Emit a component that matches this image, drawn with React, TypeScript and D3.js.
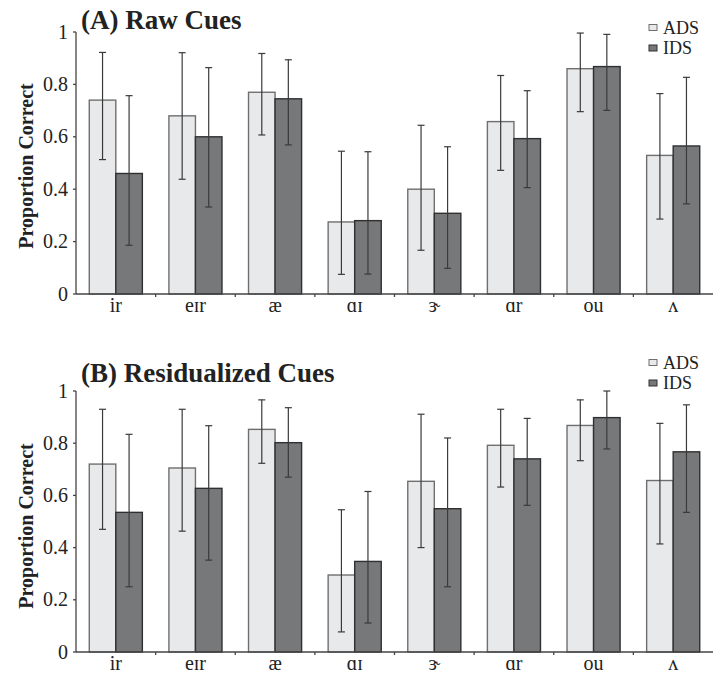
import React from 'react';
import * as d3 from 'd3';

const vowels = ['ir', 'eɪr', 'æ', 'ɑɪ', 'ɝ', 'ɑr', 'ou', 'ʌ'];
const groups = ['ADS', 'IDS'];

// panel A: raw cues
const rawADS = [0.74, 0.68, 0.77, 0.275, 0.40, 0.658, 0.86, 0.529];
const rawADSLo = [0.513, 0.438, 0.607, 0.075, 0.167, 0.472, 0.696, 0.286];
const rawADSHi = [0.922, 0.921, 0.918, 0.545, 0.644, 0.834, 0.996, 0.765];
const rawIDS = [0.46, 0.60, 0.745, 0.28, 0.308, 0.593, 0.868, 0.565];
const rawIDSLo = [0.186, 0.332, 0.569, 0.076, 0.098, 0.406, 0.701, 0.344];
const rawIDSHi = [0.757, 0.864, 0.894, 0.543, 0.562, 0.776, 0.991, 0.827];

// panel B: residualized cues
const resADS = [0.72, 0.705, 0.853, 0.295, 0.654, 0.792, 0.868, 0.657];
const resADSLo = [0.47, 0.463, 0.723, 0.077, 0.40, 0.632, 0.733, 0.414];
const resADSHi = [0.93, 0.93, 0.966, 0.545, 0.911, 0.93, 0.966, 0.876];
const resIDS = [0.535, 0.627, 0.802, 0.347, 0.549, 0.74, 0.898, 0.767];
const resIDSLo = [0.25, 0.352, 0.67, 0.111, 0.25, 0.562, 0.778, 0.535];
const resIDSHi = [0.834, 0.867, 0.936, 0.615, 0.82, 0.895, 1.0, 0.947];

const yTicks = [0, 0.2, 0.4, 0.6, 0.8, 1];

const fills = { ADS: '#e8e9eb', IDS: '#77787a' };
const strokes = { ADS: '#6f6f6f', IDS: '#303030' };

const W = 713;
const H = 680;
const LEFT = 76;
const font = { fontFamily: 'Liberation Serif' };

function Panel({ top, bottom, title, titleY, ads, adsLo, adsHi, ids, idsLo, idsHi, labelY, legendY }) {
  const x0 = d3.scaleBand().domain(vowels).range([LEFT, W]);
  const x1 = d3.scaleBand().domain(groups).range([0, x0.bandwidth()]).paddingOuter(0.5);
  const y = d3.scaleLinear().domain([0, 1]).range([bottom, top]);

  const rows = vowels.flatMap((v, i) => [
    { v, k: 'ADS', val: ads[i], lo: adsLo[i], hi: adsHi[i] },
    { v, k: 'IDS', val: ids[i], lo: idsLo[i], hi: idsHi[i] },
  ]);

  return (
    <g>
      {rows.map(d => (
        <rect
          key={d.v + d.k}
          x={x0(d.v) + x1(d.k)}
          y={y(d.val)}
          width={x1.bandwidth()}
          height={y(0) - y(d.val)}
          fill={fills[d.k]}
          stroke={strokes[d.k]}
          strokeWidth={1.4}
        />
      ))}

      {/* error bars */}
      {rows.map(d => {
        const cx = x0(d.v) + x1(d.k) + x1.bandwidth() / 2;
        return (
          <g key={'e' + d.v + d.k} stroke="#3a3a3a" strokeWidth={1.2}>
            <line x1={cx} x2={cx} y1={y(d.lo)} y2={y(d.hi)} />
            <line x1={cx - 3.5} x2={cx + 3.5} y1={y(d.hi)} y2={y(d.hi)} />
            <line x1={cx - 3.5} x2={cx + 3.5} y1={y(d.lo)} y2={y(d.lo)} />
          </g>
        );
      })}

      {/* y axis */}
      <line x1={LEFT} x2={LEFT} y1={y(1)} y2={y(0)} stroke="#444" strokeWidth={1.3} />
      {yTicks.map(t => (
        <g key={'yt' + t}>
          <line x1={LEFT - 3} x2={LEFT} y1={y(t)} y2={y(t)} stroke="#444" strokeWidth={1.3} />
          <text x={LEFT - 8} y={y(t)} dy="0.33em" textAnchor="end" fontSize={20} fill="#222" style={font}>
            {String(t)}
          </text>
        </g>
      ))}

      {/* x axis */}
      <line x1={LEFT} x2={W} y1={y(0)} y2={y(0)} stroke="#444" strokeWidth={1.3} />
      {vowels.slice(1).map(v => (
        <line key={'xt' + v} x1={x0(v)} x2={x0(v)} y1={y(0)} y2={y(0) + 3} stroke="#444" strokeWidth={1.3} />
      ))}
      {vowels.map(v => (
        <text
          key={'xl' + v}
          x={x0(v) + x0.bandwidth() / 2}
          y={y(0) + 18}
          textAnchor="middle"
          fontSize={20}
          fill="#222"
          style={font}
        >
          {v}
        </text>
      ))}

      <text x={81} y={titleY} fontWeight="bold" fontSize={27} fill="#222" style={font}>
        {title}
      </text>

      <text
        transform={`translate(33,${labelY}) rotate(-90)`}
        textAnchor="middle"
        fontWeight="bold"
        fontSize={20}
        fill="#222"
        style={font}
      >
        Proportion Correct
      </text>

      {/* legend */}
      {groups.map((k, i) => (
        <g key={'lg' + k} transform={`translate(653,${legendY + i * 20.5})`}>
          <rect x={-4} y={-3} width={8} height={6} fill={fills[k]} stroke={strokes[k]} strokeWidth={1} />
          <text x={10} dy="0.36em" fontSize={18} fill="#222" style={font}>
            {k}
          </text>
        </g>
      ))}
    </g>
  );
}

export default function App() {
  return (
    <svg width={W} height={H} style={{ position: 'absolute', left: 0, top: 0, background: '#fff' }}>
      <Panel
        top={32} bottom={294} title="(A) Raw Cues" titleY={29}
        ads={rawADS} adsLo={rawADSLo} adsHi={rawADSHi}
        ids={rawIDS} idsLo={rawIDSLo} idsHi={rawIDSHi}
        labelY={166} legendY={27.5}
      />
      <Panel
        top={391} bottom={652} title="(B) Residualized Cues" titleY={382}
        ads={resADS} adsLo={resADSLo} adsHi={resADSHi}
        ids={resIDS} idsLo={resIDSLo} idsHi={resIDSHi}
        labelY={526} legendY={362.5}
      />
    </svg>
  );
}
